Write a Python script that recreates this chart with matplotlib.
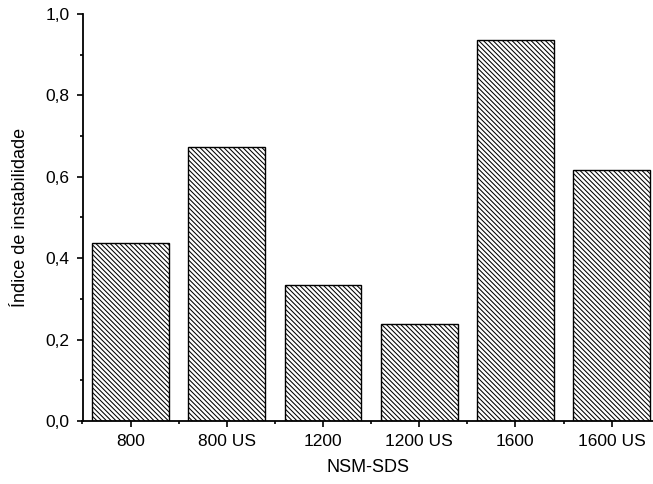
import numpy as np
import matplotlib
matplotlib.use('Agg')
import matplotlib.pyplot as plt
from matplotlib.ticker import MultipleLocator, FuncFormatter

plt.rcParams['font.family'] = ['Liberation Sans', 'DejaVu Sans']
plt.rcParams['hatch.linewidth'] = 0.75

categories = ['800', '800 US', '1200', '1200 US', '1600', '1600 US']
valores = [0.438, 0.672, 0.335, 0.238, 0.935, 0.617]

fig = plt.figure(figsize=(6.53, 4.84), dpi=100)
ax = fig.add_axes([82.5 / 653, 1 - 421 / 484, 570.5 / 653, 407 / 484])

x = np.arange(len(categories))
ax.bar(x, valores, width=0.8, color='white', edgecolor='black',
       linewidth=1.0, hatch='\\' * 7)

ax.set_xlim(-0.5, 5.43)
ax.set_ylim(0, 1.0)
ax.set_xticks(x)
ax.set_xticklabels(categories)
ax.xaxis.set_minor_locator(MultipleLocator(1, offset=0.5))
ax.yaxis.set_major_locator(MultipleLocator(0.2))
ax.yaxis.set_minor_locator(MultipleLocator(0.1))
ax.yaxis.set_major_formatter(FuncFormatter(lambda v, p: ('%.1f' % v).replace('.', ',')))

for s in ['top', 'right']:
    ax.spines[s].set_visible(False)
for s in ['left', 'bottom']:
    ax.spines[s].set_linewidth(1.3)

ax.tick_params(which='major', direction='out', length=4.5, width=1.2,
               labelsize=12.5, pad=5)
ax.tick_params(which='minor', direction='out', length=2.5, width=1.2)

ax.set_xlabel('NSM-SDS', fontsize=13, labelpad=7)
ax.set_ylabel('Índice de instabilidade', fontsize=13, labelpad=12)

fig.savefig('out.png', dpi=100)
